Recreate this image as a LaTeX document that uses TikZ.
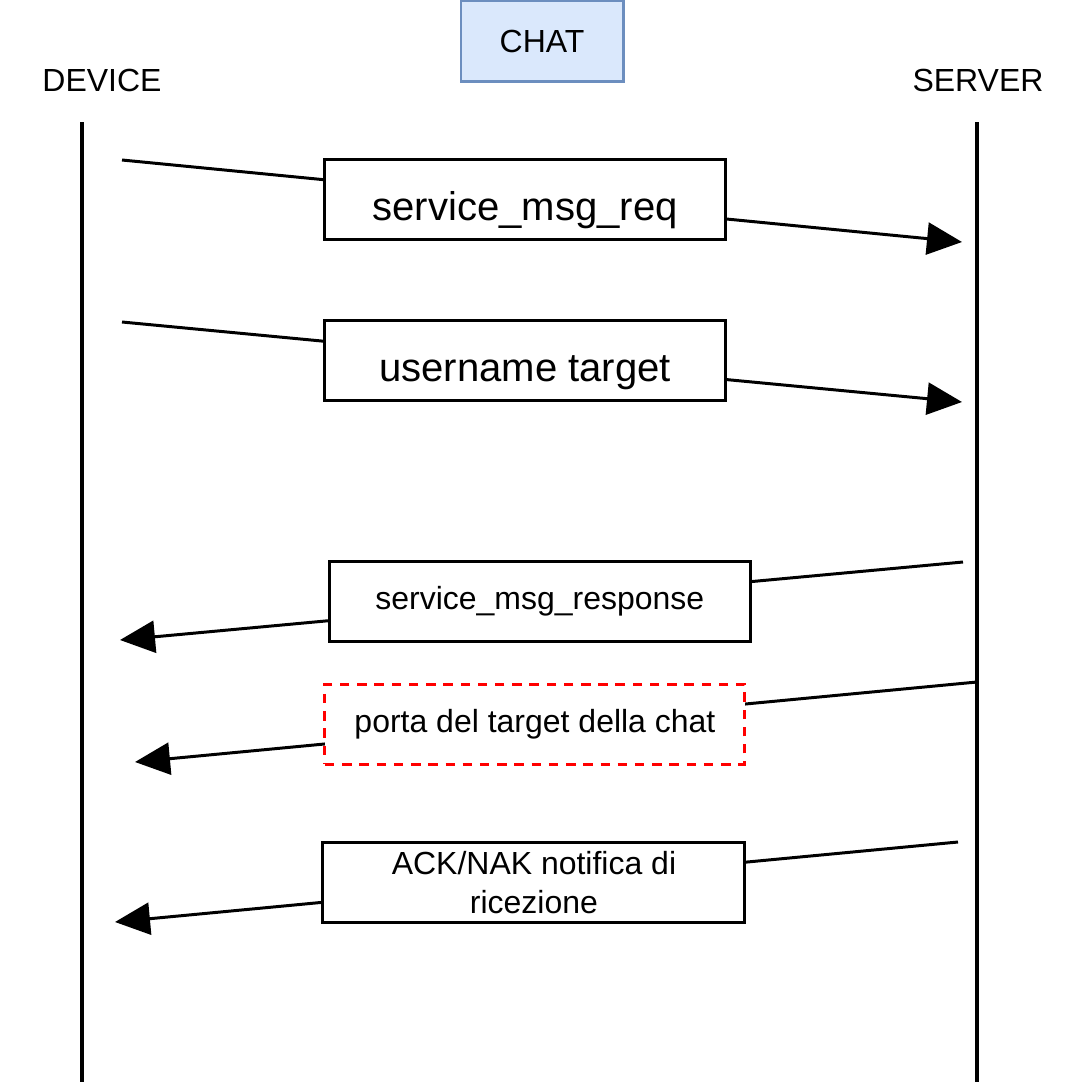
\documentclass[tikz,border=0pt]{standalone}
\usepackage{fontspec}
\setmainfont{Liberation Sans}
\usepackage{xcolor}
\usepackage{tikz}
\usetikzlibrary{arrows.meta}
\definecolor{chatfill}{HTML}{DAE8FC}
\definecolor{chatdraw}{HTML}{6C8EBF}
\newcommand{\smallfnt}{\fontsize{9.1}{11}\selectfont}
\newcommand{\bigfnt}{\fontsize{11.4}{13.7}\selectfont}

\begin{document}
\begin{tikzpicture}[
  actor/.style={font=\smallfnt, inner sep=0pt},
  life/.style={line width=1.1pt},
  msg/.style={draw, fill=white, line width=0.85pt, align=center, font=\smallfnt, minimum height=8mm, inner sep=2pt},
  msgbig/.style={msg, font=\bigfnt, text height=12pt, text depth=0pt},
  note/.style={msg, draw=red, dashed, dash pattern=on 2.7pt off 2.2pt},
  arr/.style={-{Triangle[length=3.5mm, width=3.2mm]}, line width=0.85pt}
]
\useasboundingbox (0,0) rectangle (10.8,-10.88);
% header
\node[draw=chatdraw, fill=chatfill, line width=0.85pt, font=\smallfnt, minimum width=16.2mm, minimum height=8.1mm] (chat) at (5.42,-0.41) {CHAT};
\node[actor] (dev) at (1.02,-0.80) {DEVICE};
\node[actor] (srv) at (9.78,-0.80) {SERVER};
% lifelines
\coordinate (devtop) at (0.82,-1.22); \coordinate (devbot) at (0.82,-10.82);
\coordinate (srvtop) at (9.77,-1.22); \coordinate (srvbot) at (9.77,-10.82);
\draw[life] (devtop) -- (devbot);
\draw[life] (srvtop) -- (srvbot);
% message ends
\coordinate (a1) at (1.22,-1.60); \coordinate (b1) at (9.62,-2.42);
\coordinate (a2) at (1.22,-3.22); \coordinate (b2) at (9.62,-4.02);
\coordinate (a3) at (9.63,-5.62); \coordinate (b3) at (1.20,-6.40);
\coordinate (a4) at (9.77,-6.82); \coordinate (b4) at (1.35,-7.62);
\coordinate (a5) at (9.58,-8.42); \coordinate (b5) at (1.15,-9.22);
% messages
\draw[arr] (a1) -- node[msgbig, pos=0.48, minimum width=40.1mm] (m1) {service\_msg\_req} (b1);
\draw[arr] (a2) -- node[msgbig, pos=0.48, minimum width=40.1mm] (m2) {username target} (b2);
\draw[arr] (a3) -- node[msg, pos=0.502, minimum width=42.1mm] (m3) {service\_msg\_response} (b3);
\draw[arr] (a4) -- node[note, pos=0.525, minimum width=42mm] (m4) {porta del target della chat} (b4);
\draw[arr] (a5) -- node[msg, pos=0.503, minimum width=42.2mm] (m5) {ACK/NAK notifica di\\ricezione} (b5);
\end{tikzpicture}
\end{document}
